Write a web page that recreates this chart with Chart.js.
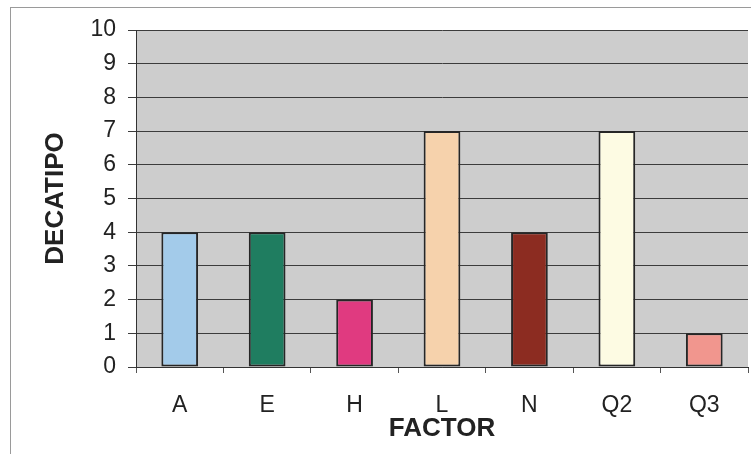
<!DOCTYPE html>
<html>
<head>
<meta charset="utf-8">
<script src="https://cdn.jsdelivr.net/npm/chart.js@4"></script>
<style>
    body { margin: 0; background: #fff; }
    canvas { display: block; }
</style>
</head>
<body>
<canvas id="decatipoChart" width="751" height="454"></canvas>
<script>
// Datos del gráfico
const factors = ['A', 'E', 'H', 'L', 'N', 'Q2', 'Q3'];
const decatipos = [4, 4, 2, 7, 4, 7, 1];
const barColors = ['#a3cbea', '#1f7d60', '#e03a80', '#f6d2ac', '#8c2c21', '#fdfbe3', '#f1968e'];
const yMin = 0;
const yMax = 10;
const yStep = 1;

// Fondo gris del área del gráfico y marco exterior
const framePlugin = {
    id: 'frame',
    beforeDraw(chart) {
        const ctx = chart.ctx;
        const area = chart.chartArea;
        ctx.save();
        ctx.fillStyle = '#ffffff';
        ctx.fillRect(0, 0, chart.width, chart.height);
        ctx.strokeStyle = '#9a9a9a';
        ctx.lineWidth = 1;
        ctx.strokeRect(10.5, 7.5, chart.width + 20, chart.height + 20);
        ctx.fillStyle = '#cdcdcd';
        ctx.fillRect(area.left, area.top, area.right - area.left, area.bottom - area.top);
        ctx.restore();
    }
};

const ctx = document.getElementById('decatipoChart').getContext('2d');
new Chart(ctx, {
    type: 'bar',
    data: {
        labels: factors,
        datasets: [{
            data: decatipos,
            backgroundColor: barColors,
            borderColor: '#262626',
            borderWidth: 2,
            borderSkipped: false,
            barPercentage: 0.42,
            categoryPercentage: 1
        }]
    },
    options: {
        responsive: false,
        animation: false,
        layout: {
            padding: { top: 30, right: 3, bottom: 0, left: 0 }
        },
        plugins: {
            legend: { display: false },
            tooltip: { enabled: false }
        },
        scales: {
            x: {
                grid: {
                    display: true,
                    drawOnChartArea: false,
                    drawTicks: true,
                    tickLength: 6,
                    color: '#555'
                },
                border: { color: '#333', width: 1 },
                ticks: {
                    color: '#222',
                    padding: 19,
                    font: { family: 'Liberation Sans, Arial, sans-serif', size: 23 }
                },
                title: {
                    display: true,
                    text: 'FACTOR',
                    color: '#222',
                    padding: { top: 0, bottom: 10 },
                    font: { family: 'Liberation Sans, Arial, sans-serif', size: 26, weight: 'bold' }
                },
                afterFit: scale => { scale.height = 87; }
            },
            y: {
                min: yMin,
                max: yMax,
                grid: {
                    color: '#3c3c3c',
                    lineWidth: 1,
                    drawTicks: true,
                    tickLength: 8
                },
                border: { color: '#333', width: 1 },
                ticks: {
                    stepSize: yStep,
                    color: '#222',
                    padding: 12,
                    font: { family: 'Liberation Sans, Arial, sans-serif', size: 23 }
                },
                title: {
                    display: true,
                    text: 'DECATIPO',
                    color: '#222',
                    padding: { top: 40, bottom: 0 },
                    font: { family: 'Liberation Sans, Arial, sans-serif', size: 26, weight: 'bold' }
                },
                afterFit: scale => { scale.width = 136; }
            }
        }
    },
    plugins: [framePlugin]
});
</script>
</body>
</html>
